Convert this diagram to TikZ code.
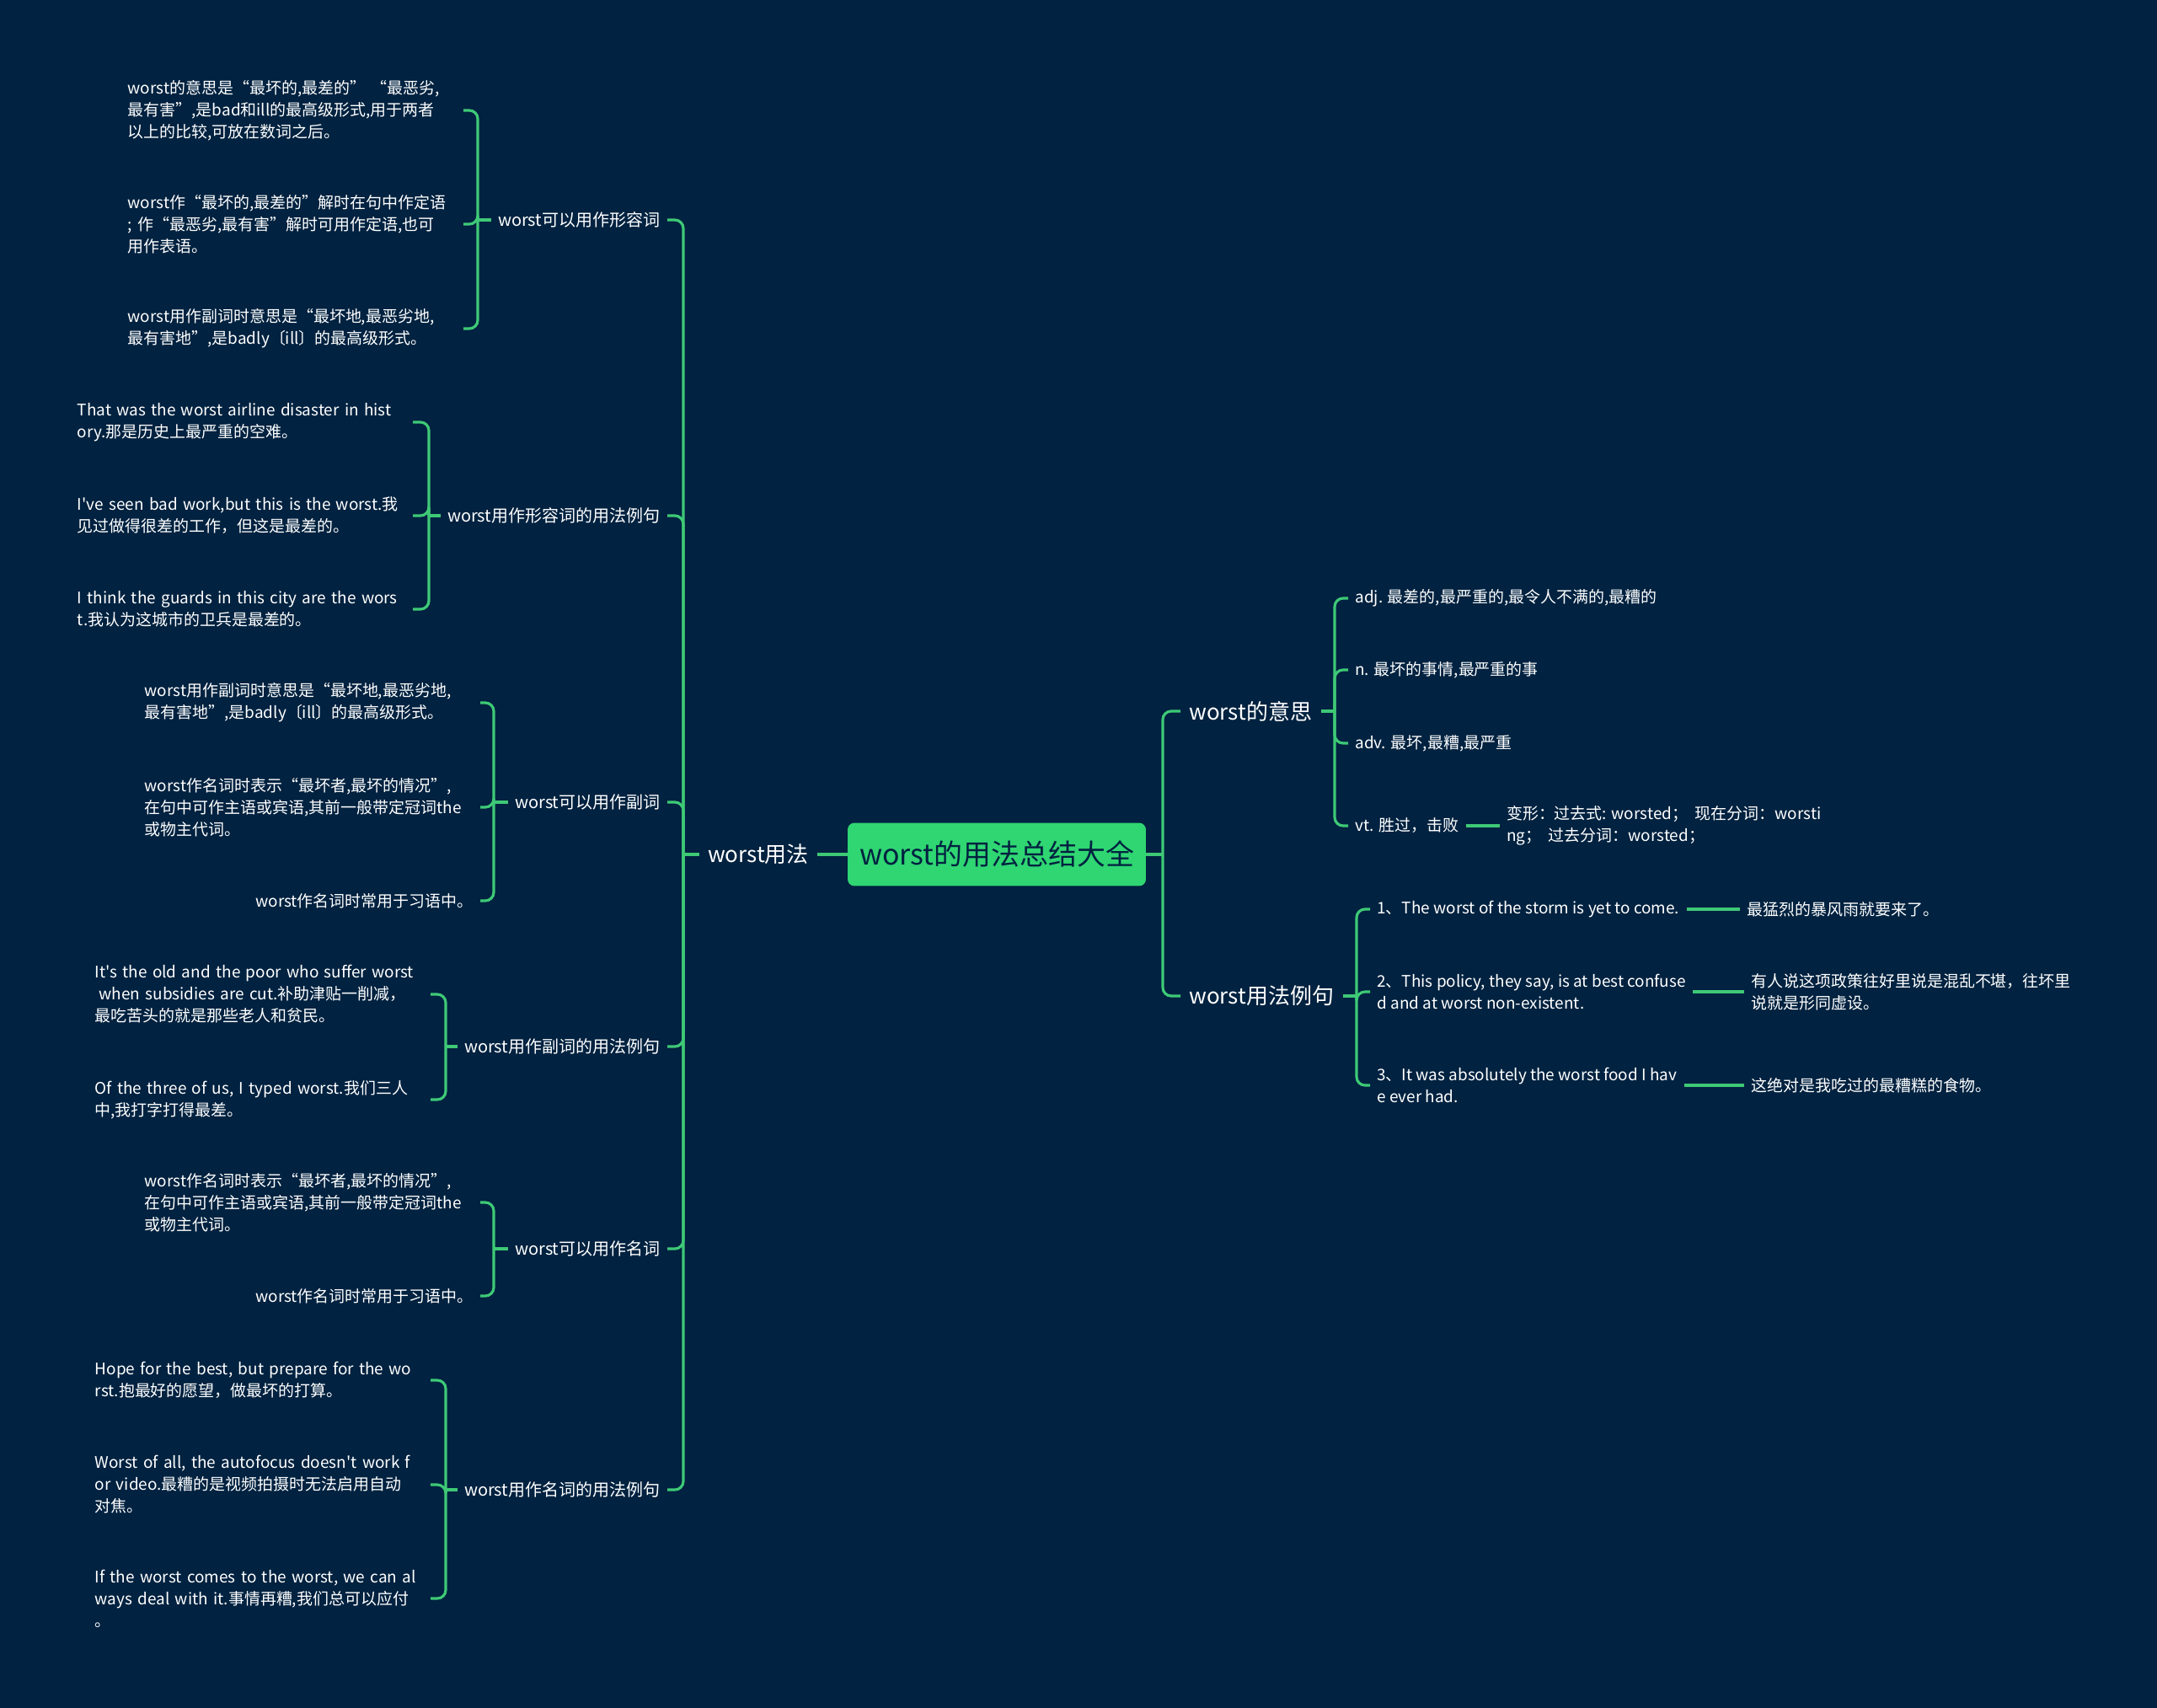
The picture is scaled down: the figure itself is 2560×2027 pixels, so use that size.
\documentclass[tikz,border=0pt]{standalone}
\usepackage{fontspec}
\setmainfont{Noto Sans CJK SC}[Ligatures=TeXOff]
\usetikzlibrary{positioning}
\definecolor{navy}{RGB}{1,34,64}
\definecolor{mint}{RGB}{47,214,114}
\definecolor{vine}{RGB}{62,201,118}

\begin{document}
\begin{tikzpicture}[x=0.02cm,y=-0.02cm,node distance=0.8cm,
  link/.style={draw=vine,line width=1.8pt,rounded corners=0.2cm},
  root/.style={fill=mint,rounded corners=0.16cm,minimum width=7.08cm,
               minimum height=1.5cm,text=navy,font=\fontsize{19.3}{23}\selectfont},
  topic/.style={text=white,inner xsep=0.2cm,font=\fontsize{14.8}{18}\selectfont},
  branch/.style={text=white,inner xsep=0.16cm,font=\fontsize{11.4}{15}\selectfont},
  leaf/.style={text=white,inner xsep=0.16cm,align=left,
               font=\fontsize{10.8}{14.8}\selectfont},
  wide/.style={leaf,text width=7.8cm}]
 \fill[navy] (0,0) rectangle (2560,2027);

 \node[root] (main) at (1183,1014) {worst的用法总结大全};
 \node[topic] (usage) at (900,1014) {worst用法};
 \node[topic,anchor=west] (mean) at (1401,844) {worst的意思};
 \node[topic,anchor=west] (sample) at (1401,1182) {worst用法例句};

 \node[branch,anchor=east] (adj)    at (792,261)  {worst可以用作形容词};
 \node[branch,anchor=east] (adjex)  at (792,612)  {worst用作形容词的用法例句};
 \node[branch,anchor=east] (adv)    at (792,952)  {worst可以用作副词};
 \node[branch,anchor=east] (advex)  at (792,1242) {worst用作副词的用法例句};
 \node[branch,anchor=east] (noun)   at (792,1482) {worst可以用作名词};
 \node[branch,anchor=east] (nounex) at (792,1768) {worst用作名词的用法例句};

 \node[wide,anchor=east] (a1) at (550,131) {worst的意思是“最坏的,最差的” “最恶劣,\\最有害”,是bad和ill的最高级形式,用于两者\\以上的比较,可放在数词之后。};
 \node[wide,anchor=east] (a2) at (550,266) {worst作“最坏的,最差的”解时在句中作定语\\; 作“最恶劣,最有害”解时可用作定语,也可\\用作表语。};
 \node[wide,anchor=east] (a3) at (550,390) {worst用作副词时意思是“最坏地,最恶劣地,\\最有害地”,是badly〔ill〕的最高级形式。};

 \node[wide,anchor=east] (b1) at (490,501) {That was the worst airline disaster in hist\\ory.那是历史上最严重的空难。};
 \node[wide,anchor=east] (b2) at (490,612) {I've seen bad work,but this is the worst.我\\见过做得很差的工作，但这是最差的。};
 \node[wide,anchor=east] (b3) at (490,723) {I think the guards in this city are the wors\\t.我认为这城市的卫兵是最差的。};

 \node[wide,anchor=east] (c1) at (570,834)  {worst用作副词时意思是“最坏地,最恶劣地,\\最有害地”,是badly〔ill〕的最高级形式。};
 \node[wide,anchor=east] (c2) at (570,958)  {worst作名词时表示“最坏者,最坏的情况”,\\在句中可作主语或宾语,其前一般带定冠词the\\或物主代词。};
 \node[leaf,anchor=east] (c3) at (570,1069) {worst作名词时常用于习语中。};

 \node[wide,anchor=east] (d1) at (511,1180) {It's the old and the poor who suffer worst\\\hspace*{0.25em}when subsidies are cut.补助津贴一削减，\\最吃苦头的就是那些老人和贫民。};
 \node[wide,anchor=east] (d2) at (511,1305) {Of the three of us, I typed worst.我们三人\\中,我打字打得最差。};

 \node[wide,anchor=east] (e1) at (570,1427) {worst作名词时表示“最坏者,最坏的情况”,\\在句中可作主语或宾语,其前一般带定冠词the\\或物主代词。};
 \node[leaf,anchor=east] (e2) at (570,1538) {worst作名词时常用于习语中。};

 \node[wide,anchor=east] (f1) at (511,1638) {Hope for the best, but prepare for the wo\\rst.抱最好的愿望，做最坏的打算。};
 \node[wide,anchor=east] (f2) at (511,1762) {Worst of all, the autofocus doesn't work f\\or video.最糟的是视频拍摄时无法启用自动\\对焦。};
 \node[wide,anchor=east] (f3) at (511,1897) {If the worst comes to the worst, we can al\\ways deal with it.事情再糟,我们总可以应付\\。};

 \node[leaf,anchor=west] (m1) at (1600,710) {adj. 最差的,最严重的,最令人不满的,最糟的};
 \node[leaf,anchor=west] (m2) at (1600,795) {n. 最坏的事情,最严重的事};
 \node[leaf,anchor=west] (m3) at (1600,882) {adv. 最坏,最糟,最严重};
 \node[leaf,anchor=west] (m4) at (1600,980) {vt. 胜过，击败};
 \node[leaf,right=of m4] (forms) {变形：过去式: worsted；\ \ 现在分词：worsti\\ng；\ \ 过去分词：worsted；};

 \node[leaf,anchor=west] (s1) at (1626,1079) {1、The worst of the storm is yet to come.};
 \node[leaf,anchor=west] (s2) at (1626,1177) {2、This policy, they say, is at best confuse\\d and at worst non-existent.};
 \node[leaf,anchor=west] (s3) at (1626,1288) {3、It was absolutely the worst food I hav\\e ever had.};
 \node[leaf,anchor=west] (t1) at (2065,1079) {最猛烈的暴风雨就要来了。};
 \node[leaf,anchor=west] (t2) at (2070,1177) {有人说这项政策往好里说是混乱不堪，往坏里\\说就是形同虚设。};
 \node[leaf,anchor=west] (t3) at (2070,1288) {这绝对是我吃过的最糟糕的食物。};

 \coordinate (trunk) at (811,1014);
 \coordinate (rtrunk) at (1380,1014);
 \coordinate (adjb) at (567,261);
 \coordinate (adjexb) at (509,612);
 \coordinate (advb) at (586,952);
 \coordinate (advexb) at (529,1242);
 \coordinate (nounb) at (586,1482);
 \coordinate (nounexb) at (529,1768);
 \coordinate (meanb) at (1584,844);
 \coordinate (sampleb) at (1610,1182);

 \draw[link] (main.west) -- (usage.east);
 \draw[link] (usage.west) -- (trunk);
 \foreach \b in {adj,adjex,adv,advex,noun,nounex}
  {\draw[link] (\b.west) -- (\b b);
   \draw[link] (trunk) |- (\b.east);}
 \foreach \l in {a1,a2,a3} \draw[link] (adjb) |- (\l.east);
 \foreach \l in {b1,b2,b3} \draw[link] (adjexb) |- (\l.east);
 \foreach \l in {c1,c2,c3} \draw[link] (advb) |- (\l.east);
 \foreach \l in {d1,d2} \draw[link] (advexb) |- (\l.east);
 \foreach \l in {e1,e2} \draw[link] (nounb) |- (\l.east);
 \foreach \l in {f1,f2,f3} \draw[link] (nounexb) |- (\l.east);

 \draw[link] (main.east) -- (rtrunk);
 \foreach \b in {mean,sample}
  {\draw[link] (rtrunk) |- (\b.west);
   \draw[link] (\b.east) -- (\b b);}
 \foreach \l in {m1,m2,m3,m4} \draw[link] (meanb) |- (\l.west);
 \foreach \l in {s1,s2,s3} \draw[link] (sampleb) |- (\l.west);
 \draw[link] (m4) -- (forms);
 \draw[link] (s1) -- (t1);
 \draw[link] (s2) -- (t2);
 \draw[link] (s3) -- (t3);
\end{tikzpicture}
\end{document}
